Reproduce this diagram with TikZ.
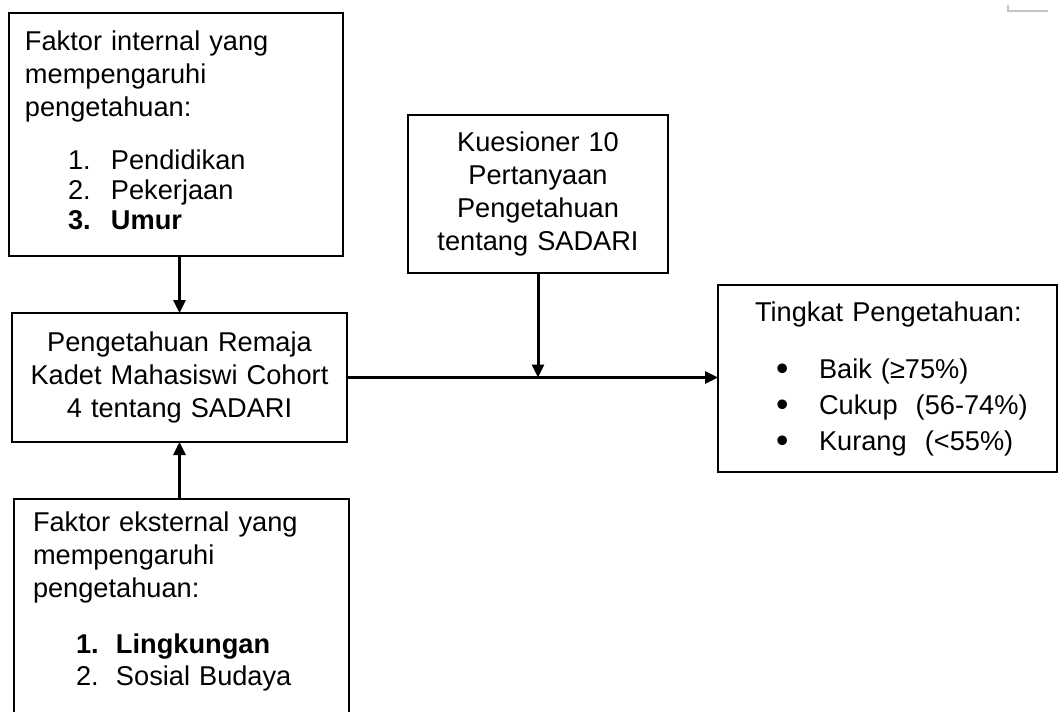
\documentclass[tikz,border=0pt]{standalone}
\usepackage{fontspec}
\setmainfont{Liberation Sans}
\usetikzlibrary{arrows.meta}
\newcommand{\butir}[3][21.5pt]{\hspace*{21.5pt}\makebox[#1][l]{#2}#3}
\newcommand{\titik}[1]{\hspace*{10.5pt}\mbox{\makebox[21.5pt][l]{\raisebox{-1.3pt}{\scalebox{1.3}{\textbullet}}}#1}}
\newcommand{\ganjal}[1]{\rule[-#1]{0pt}{#1}}
\begin{document}
\begin{tikzpicture}[x=0.5pt,y=-0.5pt,anchor=north west,
  kotak/.style={draw,line width=1.2pt,outer sep=0pt,inner ysep=0pt,font=\fontsize{13.6}{16.5}\selectfont},
  panah/.style={line width=1.5pt,-{Triangle[length=6.5pt,width=6pt]}}]
\useasboundingbox (0,0) rectangle (1058,711);
% kotak faktor
\node[kotak,minimum width=167pt,minimum height=121.5pt,inner xsep=8pt,text width=151pt,align=left] (intern) at (9,13)
 {Faktor internal yang\\mempengaruhi\\pengetahuan:\\[10pt]\butir{1.}{Pendidikan}\\[-1.5pt]\butir{2.}{Pekerjaan}\\[-1.5pt]\butir{\textbf{3.}}{\textbf{Umur}}\ganjal{4pt}};
\node[kotak,minimum width=167.5pt,minimum height=125pt,inner xsep=9.5pt,text width=148.5pt,align=left] (extern) at (14,499)
 {Faktor eksternal yang\\mempengaruhi\\pengetahuan:\\[11.5pt]\butir[20pt]{\textbf{1.}}{\textbf{Lingkungan}}\\[-0.5pt]\butir[20pt]{2.}{Sosial Budaya}\ganjal{25.5pt}};
% kotak tengah
\node[kotak,minimum width=167.5pt,minimum height=64.5pt,inner xsep=8.75pt,text width=150pt,align=center] (main) at (12,313)
 {Pengetahuan Remaja\\Kadet Mahasiswi Cohort\\4 tentang SADARI};
\node[kotak,minimum width=130pt,minimum height=79pt,inner xsep=9pt,text width=112pt,align=center] (kuesioner) at (408,115)
 {Kuesioner 10\\Pertanyaan\\Pengetahuan\\tentang SADARI};
\node[kotak,minimum width=169.5pt,minimum height=93.5pt,inner xsep=18.5pt,text width=132.5pt,align=left] (hasil) at (718,285)
 {\mbox{Tingkat Pengetahuan:}\\[12pt]\titik{Baik (≥75\%)}\\[1.5pt]\titik{Cukup\ \ (56-74\%)}\\[1.5pt]\titik{Kurang\ \ (<55\%)}};
% panah
\coordinate (temu) at (kuesioner.south |- main.east);
\draw[panah] (intern.south -| main.north) -- (main.north);
\draw[panah] (extern.north -| main.south) -- (main.south);
\draw[panah] (main.east) -- (main.east -| hasil.west);
\draw[panah] (kuesioner.south) -- (temu);
% tanda sudut
\draw[gray!45,line width=0.6pt] (1008,5) -- (1008,11) -- (1048,11);
\end{tikzpicture}
\end{document}
